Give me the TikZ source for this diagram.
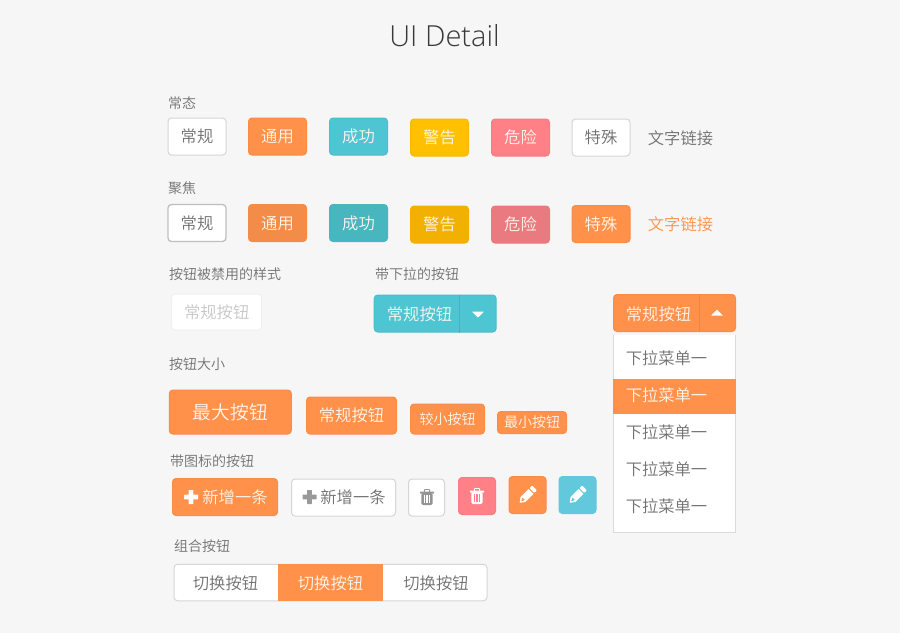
\documentclass[tikz,border=0pt]{standalone}
\usepackage{fontspec}
\usepackage{xcolor}
\setmainfont{Noto Sans CJK SC}[UprightFont=* DemiLight]
\newfontfamily\titlefont{Open Sans Light}
\definecolor{pagebg}{HTML}{F6F6F6}
\definecolor{inkgray}{HTML}{707070}
\definecolor{orangebtn}{HTML}{FF914A}
\definecolor{orangeedge}{HTML}{F98C46}
\definecolor{tealbtn}{HTML}{4EC5D2}
\definecolor{tealedge}{HTML}{4ABFCB}
\definecolor{yellowbtn}{HTML}{FFC000}
\definecolor{yellowedge}{HTML}{F8BA00}
\definecolor{pinkbtn}{HTML}{FF8087}
\definecolor{pinkedge}{HTML}{F97D84}
\definecolor{orangefoc}{HTML}{F38C48}
\definecolor{tealfoc}{HTML}{47B6BE}
\definecolor{yellowfoc}{HTML}{F2B000}
\definecolor{pinkfoc}{HTML}{E87A80}
\definecolor{whiteedge}{HTML}{D6D6D6}
\definecolor{skybtn}{HTML}{62C8DC}
\definecolor{btntext}{HTML}{FFF6EE}
\newcommand{\btnfont}[1]{\fontsize{#1}{#1}\selectfont}
\newcommand{\TrashIcon}[3]{
    \begin{scope}[shift={(#1)}]
        \fill[#2, rounded corners=1pt] (-3.2,-8) rectangle (3.2,-3);
        \fill[#3] (-1.8,-6.6) rectangle (1.8,-4);
        \fill[#2, rounded corners=0.6pt] (-7,-5.4) rectangle (7,-3.4);
        \fill[#2, rounded corners=1.5pt] (-5.6,-4) rectangle (5.6,8);
        \fill[#3] (-3.2,-2) rectangle (-1.9,6);
        \fill[#3] (-0.65,-2) rectangle (0.65,6);
        \fill[#3] (1.9,-2) rectangle (3.2,6);
    \end{scope}
}
\newcommand{\PencilIcon}[3]{
    \begin{scope}[shift={(#1)}, rotate=45]
        \fill[#2] (-11,0) -- (-6.5,-3.4) -- (5,-3.4) -- (5,3.4) -- (-6.5,3.4) -- cycle;
        \fill[#3] (-5.4,-1.6) -- (-5.4,1.6) -- (-8.4,0.4) -- (-8.4,-0.4) -- cycle;
        \fill[#2, rounded corners=0.8pt] (6.2,-3.4) rectangle (10,3.4);
    \end{scope}
}
\newcommand{\PlusIcon}[2]{
    \begin{scope}[shift={(#1)}]
        \fill[#2, rounded corners=0.6pt] (-7,-2.4) rectangle (7,2.4);
        \fill[#2, rounded corners=0.6pt] (-2.4,-7) rectangle (2.4,7);
    \end{scope}
}

\begin{document}
\begin{tikzpicture}[x=1pt, y=-1pt]
        \tikzstyle{Btn} = [rectangle, rounded corners=3.5pt, inner sep=0pt, minimum width=58pt, minimum height=37pt,
            line width=1pt, font=\btnfont{16.3}, text height=14.3pt, text depth=2pt]
        \tikzstyle{WhiteBtn} = [Btn, draw=whiteedge, fill=white, text=inkgray]
        \tikzstyle{FocusBtn} = [Btn, draw=black!25, line width=1.3pt, fill=white, text=inkgray]
        \tikzstyle{OrangeBtn} = [Btn, draw=orangeedge, fill=orangebtn, text=btntext]
        \tikzstyle{TealBtn} = [Btn, draw=tealedge, fill=tealbtn, text=btntext]
        \tikzstyle{YellowBtn} = [Btn, draw=yellowedge, fill=yellowbtn, text=btntext]
        \tikzstyle{PinkBtn} = [Btn, draw=pinkedge, fill=pinkbtn, text=btntext]
        \tikzstyle{Plain} = [inner sep=0pt, text=inkgray, font=\btnfont{16.3}, text height=14.3pt, text depth=2pt]
        \tikzstyle{Heading} = [inner sep=0pt, anchor=west, text=inkgray, font=\btnfont{14}, text height=12.3pt, text depth=1.7pt]

        \useasboundingbox (0,0) rectangle (900,633);
        \fill[pagebg] (0,0) rectangle (900,633);

        \node[inner sep=0pt, text=black!78, font=\titlefont\btnfont{29}] (Title) at (444.5,36) {UI Detail};

        \node[Heading] (LabelNormal) at (168,103) {常态};
        \node[WhiteBtn] (NormalA) at (197,136.5) {常规};
        \node[OrangeBtn] (NormalB) at (277.5,136.5) {通用};
        \node[TealBtn] (NormalC) at (358.5,136.5) {成功};
        \node[YellowBtn] (NormalD) at (439.5,137.5) {警告};
        \node[PinkBtn] (NormalE) at (520.5,137.5) {危险};
        \node[WhiteBtn] (NormalF) at (601,137.5) {特殊};
        \node[Plain] (NormalLink) at (680.5,138) {文字链接};

        \node[Heading] (LabelFocus) at (168,188) {聚焦};
        \node[FocusBtn] (FocusA) at (197,223) {常规};
        \node[OrangeBtn, draw=orangefoc, fill=orangefoc] (FocusB) at (277.5,223) {通用};
        \node[TealBtn, draw=tealfoc, fill=tealfoc] (FocusC) at (358.5,223) {成功};
        \node[YellowBtn, draw=yellowfoc, fill=yellowfoc] (FocusD) at (439.5,224.5) {警告};
        \node[PinkBtn, draw=pinkfoc, fill=pinkfoc] (FocusE) at (520.5,224.5) {危险};
        \node[OrangeBtn] (FocusF) at (601,224) {特殊};
        \node[Plain, text=orangebtn] (FocusLink) at (680.5,224.5) {文字链接};

        \node[Heading] (LabelDisabled) at (169,274) {按钮被禁用的样式};
        \node[WhiteBtn, draw=black!6, text=black!22, minimum width=90pt, minimum height=36pt] (Disabled) at (216.7,312) {常规按钮};

        \node[Heading] (LabelDrop) at (375,274) {带下拉的按钮};
        \node[TealBtn, minimum width=122pt] (DropTeal) at (435.2,313.5) {};
        \node[Plain, text=btntext] (DropTealText) at (419.5,314) {常规按钮};
        \coordinate (DropTealCut) at (459.5,0);
        \draw[black!10!tealbtn, line width=1pt] (DropTeal.north -| DropTealCut) -- (DropTeal.south -| DropTealCut);
        \fill[white, rounded corners=0.5pt] (472,311.5) -- (484,311.5) -- (478,317.5) -- cycle;

        \node[OrangeBtn, minimum width=122pt] (DropOrange) at (674.5,313) {};
        \node[Plain, text=btntext] (DropOrangeText) at (658.5,314) {常规按钮};
        \coordinate (DropOrangeCut) at (699,0);
        \draw[black!8!orangebtn, line width=1pt] (DropOrange.north -| DropOrangeCut) -- (DropOrange.south -| DropOrangeCut);
        \fill[white, rounded corners=0.5pt] (711,315.5) -- (723,315.5) -- (717,309.5) -- cycle;

        \fill[black, opacity=0.04] (612.6,334.6) rectangle (736.2,533.4);
        \fill[black, opacity=0.07] (613.2,335) rectangle (735.6,532.6);
        \node[rectangle, fill=white, inner sep=0pt, minimum width=121.4pt, minimum height=196.8pt] (Menu) at (674.4,433.4) {};
        \node[rectangle, fill=orangebtn, minimum width=123pt, minimum height=35pt, inner sep=0pt] (MenuHi) at (674.5,396.5) {};
        \node[Plain] (MenuA) at (666.5,358.3) {下拉菜单一};
        \node[Plain, text=btntext] (MenuB) at (666.5,395.5) {下拉菜单一};
        \node[Plain] (MenuC) at (666.5,432.5) {下拉菜单一};
        \node[Plain] (MenuD) at (666.5,469.3) {下拉菜单一};
        \node[Plain] (MenuE) at (666.5,506.3) {下拉菜单一};

        \node[Heading] (LabelSize) at (169,364) {按钮大小};
        \node[OrangeBtn, minimum width=122pt, minimum height=44pt, font=\btnfont{18.7}, text height=16.5pt, text depth=2.2pt] (SizeA) at (230.3,412) {最大按钮};
        \node[OrangeBtn, minimum width=90pt, minimum height=37pt] (SizeB) at (351.5,415.5) {常规按钮};
        \node[OrangeBtn, minimum width=74pt, minimum height=30pt, font=\btnfont{14}, text height=12.3pt, text depth=1.7pt] (SizeC) at (447.5,419) {较小按钮};
        \node[OrangeBtn, minimum width=69pt, minimum height=22pt, font=\btnfont{14}, text height=12.3pt, text depth=1.7pt] (SizeD) at (532,422.5) {最小按钮};

        \node[Heading] (LabelIcon) at (170,461) {带图标的按钮};
        \node[OrangeBtn, minimum width=105pt] (IconA) at (225,497) {};
        \PlusIcon{191,497}{white}
        \node[Plain, text=btntext] (IconAText) at (235,497.5) {新增一条};
        \node[WhiteBtn, minimum width=104pt] (IconB) at (343.5,497.5) {};
        \PlusIcon{309.5,497}{black!40}
        \node[Plain] (IconBText) at (353,497.5) {新增一条};
        \node[WhiteBtn, minimum width=36pt] (IconC) at (426.5,497.5) {};
        \TrashIcon{427,497}{black!42}{white}
        \node[PinkBtn, minimum width=37pt] (IconD) at (477,496) {};
        \TrashIcon{477,496}{white}{pinkbtn}
        \node[OrangeBtn, minimum width=37pt] (IconE) at (527.5,495) {};
        \PencilIcon{527.5,495}{white}{orangebtn}
        \node[TealBtn, draw=skybtn, fill=skybtn, minimum width=37pt] (IconF) at (577.5,495) {};
        \PencilIcon{577.5,495}{white}{skybtn}

        \node[Heading] (LabelGroup) at (174,546) {组合按钮};
        \node[WhiteBtn, minimum width=313pt, minimum height=36.5pt] (Group) at (330.5,582.5) {};
        \node[rectangle, fill=orangebtn, minimum width=105pt, minimum height=37.5pt, inner sep=0pt] (GroupHi) at (330.5,582.5) {};
        \node[Plain] (GroupA) at (225.5,583) {切换按钮};
        \node[Plain, text=btntext] (GroupB) at (330.5,583) {切换按钮};
        \node[Plain] (GroupC) at (436,583) {切换按钮};
    \end{tikzpicture}
\end{document}
